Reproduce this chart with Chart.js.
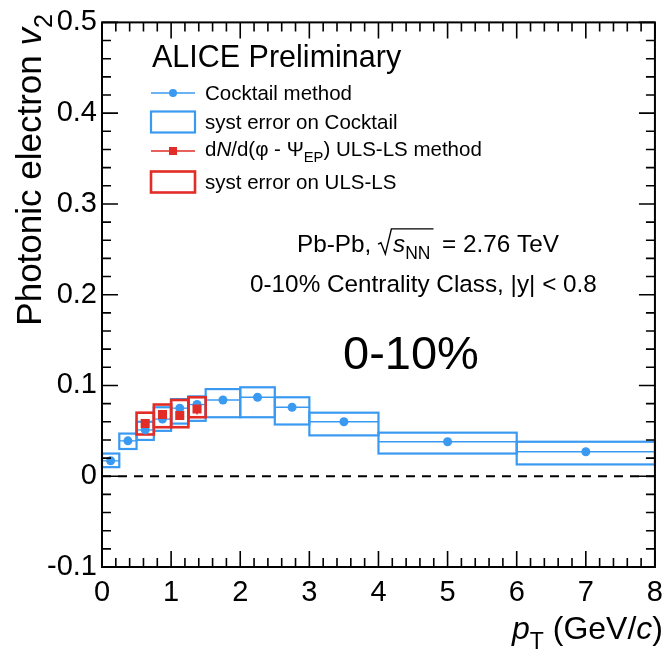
<!DOCTYPE html>
<html>
<head>
<meta charset="utf-8">
<script src="https://cdn.jsdelivr.net/npm/chart.js@4/dist/chart.umd.min.js"></script>
<style>
  html, body { margin: 0; padding: 0; background: #fff; }
  #wrap { width: 672px; height: 655px; }
</style>
</head>
<body>
<div id="wrap"><canvas id="c" width="672" height="655"></canvas></div>
<script>
// pT bins of the cocktail-method measurement (GeV/c)
const binLow  = [0.00, 0.25, 0.50, 0.75, 1.00, 1.25, 1.50, 2.00, 2.50, 3.00, 4.00, 6.00];
const binHigh = [0.25, 0.50, 0.75, 1.00, 1.25, 1.50, 2.00, 2.50, 3.00, 4.00, 6.00, 8.00];
const cocktailPt = [0.125, 0.375, 0.625, 0.875, 1.125, 1.375, 1.75, 2.25, 2.75, 3.5, 5.0, 7.0];
const cocktailV2 = [0.017, 0.039, 0.051, 0.063, 0.075, 0.079, 0.084, 0.087, 0.076, 0.060, 0.038, 0.027];
const cocktailSysLow  = [0.010, 0.030, 0.040, 0.050, 0.058, 0.061, 0.065, 0.065, 0.057, 0.045, 0.025, 0.013];
const cocktailSysHigh = [0.025, 0.047, 0.060, 0.076, 0.085, 0.088, 0.096, 0.098, 0.087, 0.070, 0.048, 0.038];

// dN/d(phi - Psi_EP) ULS-LS method
const ulsBinLow  = [0.50, 0.75, 1.00, 1.25];
const ulsBinHigh = [0.75, 1.00, 1.25, 1.50];
const ulsPt = [0.625, 0.875, 1.125, 1.375];
const ulsV2 = [0.058, 0.068, 0.067, 0.074];
const ulsStat = [0.004, 0.004, 0.004, 0.006];
const ulsSysLow  = [0.046, 0.054, 0.054, 0.065];
const ulsSysHigh = [0.070, 0.079, 0.084, 0.087];

// axis ticks
const xTickValues = [0, 1, 2, 3, 4, 5, 6, 7, 8];
const xTickLabels = ['0', '1', '2', '3', '4', '5', '6', '7', '8'];
const yTickValues = [-0.1, 0, 0.1, 0.2, 0.3, 0.4, 0.5];
const yTickLabels = ['-0.1', '0', '0.1', '0.2', '0.3', '0.4', '0.5'];

const FAMILY = '"Liberation Sans", Arial, Helvetica, sans-serif';
const BLUE = 'rgb(58,154,242)';
const RED = 'rgb(226,44,38)';

function font(size, italic) {
  return (italic ? 'italic ' : '') + size + 'px ' + FAMILY;
}

// Draw a run of text pieces with mixed italic / subscript styles.
function drawRich(ctx, parts, x, y, size, align) {
  let total = 0;
  const items = parts.map(p => {
    const s = p.sub ? size * 0.72 : size;
    ctx.font = font(s, p.italic);
    const w = ctx.measureText(p.t).width;
    total += w;
    return { p, s, w };
  });
  let cx = align === 'right' ? x - total : align === 'center' ? x - total / 2 : x;
  for (const it of items) {
    ctx.font = font(it.s, it.p.italic);
    ctx.fillText(it.p.t, cx, y + (it.p.sub ? size * 0.3 : 0));
    cx += it.w;
  }
  return total;
}

function box(ctx, xs, ys, x0, x1, y0, y1) {
  const a = xs.getPixelForValue(x0), b = xs.getPixelForValue(x1);
  const c = ys.getPixelForValue(y1), d = ys.getPixelForValue(y0);
  ctx.strokeRect(a, c, b - a, d - c);
}

const errorBoxes = {
  id: 'errorBoxes',
  beforeDatasetsDraw(chart) {
    const { ctx, scales: { x, y } } = chart;
    ctx.save();
    // dashed zero line
    ctx.strokeStyle = '#000';
    ctx.lineWidth = 2;
    ctx.setLineDash([9, 7]);
    ctx.beginPath();
    ctx.moveTo(x.getPixelForValue(0), y.getPixelForValue(0));
    ctx.lineTo(x.getPixelForValue(8), y.getPixelForValue(0));
    ctx.stroke();
    ctx.setLineDash([]);

    // cocktail: systematic boxes and bin-width bars
    ctx.strokeStyle = BLUE;
    for (let i = 0; i < cocktailPt.length; i++) {
      ctx.lineWidth = 2.2;
      box(ctx, x, y, binLow[i], binHigh[i], cocktailSysLow[i], cocktailSysHigh[i]);
      ctx.lineWidth = 1.3;
      const py = y.getPixelForValue(cocktailV2[i]);
      ctx.beginPath();
      ctx.moveTo(x.getPixelForValue(binLow[i]), py);
      ctx.lineTo(x.getPixelForValue(binHigh[i]), py);
      ctx.stroke();
    }

    // ULS-LS: systematic boxes and statistical bars
    ctx.strokeStyle = RED;
    for (let i = 0; i < ulsPt.length; i++) {
      ctx.lineWidth = 2.6;
      box(ctx, x, y, ulsBinLow[i], ulsBinHigh[i], ulsSysLow[i], ulsSysHigh[i]);
      ctx.lineWidth = 1.5;
      const px = x.getPixelForValue(ulsPt[i]);
      ctx.beginPath();
      ctx.moveTo(px, y.getPixelForValue(ulsV2[i] - ulsStat[i]));
      ctx.lineTo(px, y.getPixelForValue(ulsV2[i] + ulsStat[i]));
      ctx.stroke();
    }
    ctx.restore();
  }
};

const frameAndText = {
  id: 'frameAndText',
  afterDraw(chart) {
    const { ctx, chartArea: ca, scales: { x, y } } = chart;
    ctx.save();
    ctx.strokeStyle = '#000';
    ctx.lineWidth = 2;
    ctx.strokeRect(ca.left, ca.top, ca.right - ca.left, ca.bottom - ca.top);

    // inward ticks on all four sides
    ctx.lineWidth = 1.6;
    ctx.beginPath();
    for (let k = 0; k <= 40; k++) {
      const v = k * 0.2;
      const px = x.getPixelForValue(v);
      const len = k % 5 === 0 ? 16 : 9;
      ctx.moveTo(px, ca.bottom); ctx.lineTo(px, ca.bottom - len);
      ctx.moveTo(px, ca.top); ctx.lineTo(px, ca.top + len);
    }
    for (let k = 0; k <= 30; k++) {
      const v = -0.1 + k * 0.02;
      const py = y.getPixelForValue(v);
      const len = k % 5 === 0 ? 16 : 9;
      ctx.moveTo(ca.left, py); ctx.lineTo(ca.left + len, py);
      ctx.moveTo(ca.right, py); ctx.lineTo(ca.right - len, py);
    }
    ctx.stroke();

    ctx.fillStyle = '#000';
    ctx.textBaseline = 'alphabetic';

    // axis titles
    drawRich(ctx, [{ t: 'p', italic: true }, { t: 'T', sub: true }, { t: ' (GeV/' },
      { t: 'c', italic: true }, { t: ')' }], 663, 639, 32, 'right');
    ctx.save();
    ctx.translate(41, 14);
    ctx.rotate(-Math.PI / 2);
    drawRich(ctx, [{ t: 'Photonic electron ' }, { t: 'v', italic: true }, { t: '2', sub: true }],
      0, 0, 35, 'right');
    ctx.restore();

    // header
    ctx.font = font(30.5);
    ctx.fillText('ALICE Preliminary', 152, 67);

    // legend
    const lx0 = 151, lx1 = 195, tx = 205;
    const rows = [93, 122, 151, 182];
    ctx.lineWidth = 1.4;
    ctx.strokeStyle = BLUE; ctx.fillStyle = BLUE;
    ctx.beginPath(); ctx.moveTo(lx0, rows[0]); ctx.lineTo(lx1, rows[0]); ctx.stroke();
    ctx.beginPath(); ctx.arc((lx0 + lx1) / 2, rows[0], 4, 0, 2 * Math.PI); ctx.fill();
    ctx.lineWidth = 2.2;
    ctx.strokeRect(lx0, rows[1] - 10.5, lx1 - lx0, 21);
    ctx.strokeStyle = RED; ctx.fillStyle = RED;
    ctx.lineWidth = 1.4;
    ctx.beginPath(); ctx.moveTo(lx0, rows[2]); ctx.lineTo(lx1, rows[2]); ctx.stroke();
    ctx.fillRect((lx0 + lx1) / 2 - 4, rows[2] - 4, 8, 8);
    ctx.lineWidth = 2.6;
    ctx.strokeRect(lx0, rows[3] - 10.5, lx1 - lx0, 21);

    ctx.fillStyle = '#000';
    const ls = 20.5;
    ctx.font = font(ls);
    ctx.fillText('Cocktail method', tx, rows[0] + 7);
    ctx.fillText('syst error on Cocktail', tx, rows[1] + 7);
    drawRich(ctx, [{ t: 'd' }, { t: 'N', italic: true }, { t: '/d(\u03C6 - \u03A8' },
      { t: 'EP', sub: true }, { t: ') ULS-LS method' }], tx, rows[2] + 5, ls, 'left');
    ctx.font = font(ls);
    ctx.fillText('syst error on ULS-LS', tx, rows[3] + 7);

    // collision system
    const ps = 24.3;
    let cx = 297;
    const base1 = 252;
    ctx.font = font(ps);
    ctx.fillText('Pb-Pb, ', cx, base1);
    cx += ctx.measureText('Pb-Pb, ').width;
    const radStart = cx;
    cx += ps * 0.62;
    const wIn = drawRich(ctx, [{ t: 's', italic: true }, { t: 'NN', sub: true }], cx, base1, ps, 'left');
    ctx.lineWidth = 1.4;
    ctx.strokeStyle = '#000';
    ctx.beginPath();
    ctx.moveTo(radStart, base1 - ps * 0.32);
    ctx.lineTo(radStart + ps * 0.12, base1 - ps * 0.38);
    ctx.lineTo(radStart + ps * 0.3, base1 + ps * 0.08);
    ctx.lineTo(radStart + ps * 0.55, base1 - ps * 0.95);
    ctx.lineTo(cx + wIn + 3, base1 - ps * 0.95);
    ctx.stroke();
    cx += wIn + ps * 0.2;
    ctx.font = font(ps);
    ctx.fillText(' = 2.76 TeV', cx, base1);
    ctx.fillText('0-10% Centrality Class, |y| < 0.8', 250, 292);

    ctx.font = font(47);
    ctx.fillText('0-10%', 343, 369);
    ctx.restore();
  }
};

new Chart(document.getElementById('c'), {
  type: 'scatter',
  data: {
    datasets: [
      {
        label: 'Cocktail method',
        data: cocktailPt.map((v, i) => ({ x: v, y: cocktailV2[i] })),
        backgroundColor: BLUE,
        borderColor: BLUE,
        pointStyle: 'circle',
        pointRadius: 4.5,
        borderWidth: 0,
        order: 1
      },
      {
        label: 'dN/d(\u03C6 - \u03A8EP) ULS-LS method',
        data: ulsPt.map((v, i) => ({ x: v, y: ulsV2[i] })),
        backgroundColor: RED,
        borderColor: RED,
        pointStyle: 'rect',
        pointRadius: 6.4,
        borderWidth: 0,
        order: 0
      }
    ]
  },
  options: {
    responsive: false,
    animation: false,
    devicePixelRatio: 1,
    layout: { padding: { top: 21, right: 8, left: 0, bottom: 0 } },
    plugins: { legend: { display: false }, tooltip: { enabled: false } },
    scales: {
      x: {
        type: 'linear', min: 0, max: 8,
        grid: { display: false, drawTicks: false }, border: { display: false },
        afterBuildTicks: s => { s.ticks = xTickValues.map(v => ({ value: v })); },
        afterFit: s => { s.height = 88; },
        ticks: {
          color: '#000', padding: 9, maxRotation: 0, autoSkip: false,
          font: { family: FAMILY, size: 29 },
          callback: (v, i) => xTickLabels[i]
        }
      },
      y: {
        type: 'linear', min: -0.1, max: 0.5,
        grid: { display: false, drawTicks: false }, border: { display: false },
        afterBuildTicks: s => { s.ticks = yTickValues.map(v => ({ value: v })); },
        afterFit: s => { s.width = 102; },
        ticks: {
          color: '#000', padding: 5, autoSkip: false,
          font: { family: FAMILY, size: 29 },
          callback: (v, i) => yTickLabels[i]
        }
      }
    }
  },
  plugins: [errorBoxes, frameAndText]
});
</script>
</body>
</html>
